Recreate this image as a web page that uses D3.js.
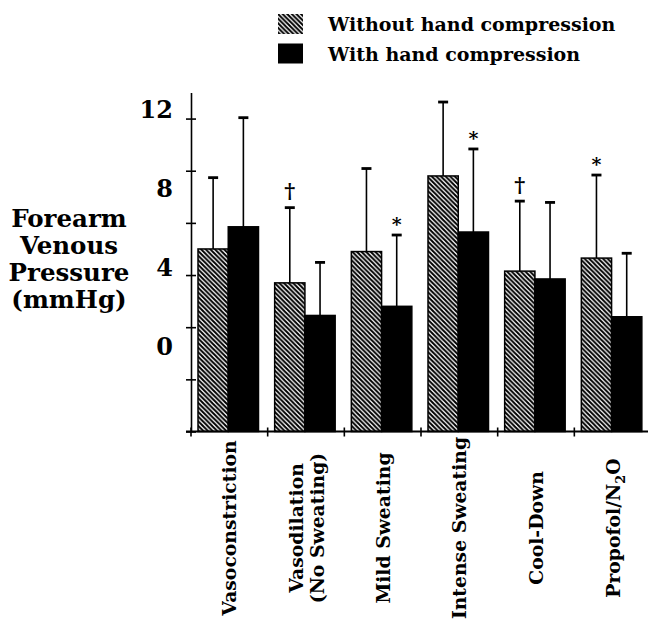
<!DOCTYPE html>
<html>
<head>
<meta charset="utf-8">
<script src="https://cdn.jsdelivr.net/npm/d3@7"></script>
<style>
  html, body { margin: 0; padding: 0; background: #fff; }
  svg { display: block; }
  text { font-family: "DejaVu Serif", serif; font-weight: bold; fill: #000; }
</style>
</head>
<body>
<svg id="chart" width="648" height="622"></svg>
<script>
// ---------------- data ----------------
const categories = ["Vasoconstriction", "Vasodilation\n(No Sweating)", "Mild Sweating", "Intense Sweating", "Cool-Down", "Propofol/N₂O"];
const seriesNames = ["Without hand compression", "With hand compression"];
const withoutComp = [7.0, 5.7, 6.9, 9.8, 6.15, 6.65];
const withoutSD   = [2.75, 2.9, 3.2, 2.85, 2.7, 3.2];
const withComp    = [7.85, 4.45, 4.8, 7.65, 5.85, 4.4];
const withSD      = [4.2, 2.05, 2.75, 3.2, 2.95, 2.45];
const withoutSig  = ["", "†", "", "", "†", "*"];
const withSig     = ["", "", "*", "*", "", ""];
const yTicks      = [0, 2, 4, 6, 8, 10, 12];
const yTickLabels = [12, 8, 4, 0];
const yTitle      = ["Forearm", "Venous", "Pressure", "(mmHg)"];

// ---------------- layout ----------------
const svg = d3.select("#chart");
const x0 = d3.scaleBand().domain(categories).range([191, 651]);
const x1 = d3.scaleBand().domain(seriesNames).range([7, 67.5]);
const y = d3.scaleLinear().domain([0, 13]).range([431.5, 92.5]);
// tick labels as printed in the original figure (offset from the tick marks)
const yLab = d3.scaleLinear().domain([0, 12]).range([355, 118]);

const defs = svg.append("defs");
const P = 4.6;
const pat = defs.append("pattern").attr("id", "hatch")
  .attr("patternUnits", "userSpaceOnUse").attr("width", P).attr("height", P);
pat.append("rect").attr("width", P).attr("height", P).attr("fill", "#fff");
pat.append("path").attr("d", `M-1,-1 L${P + 1},${P + 1} M-1,${P - 1} L1,${P + 1} M${P - 1},-1 L${P + 1},1`)
  .attr("stroke", "#000").attr("stroke-width", 2);

const fills = { [seriesNames[0]]: "url(#hatch)", [seriesNames[1]]: "#000" };

const rows = categories.map((c, i) => ([
  { cat: c, s: seriesNames[0], v: withoutComp[i], sd: withoutSD[i], sig: withoutSig[i] },
  { cat: c, s: seriesNames[1], v: withComp[i], sd: withSD[i], sig: withSig[i] }
]));

const g = svg.append("g").selectAll("g").data(rows).join("g")
  .attr("transform", d => `translate(${x0(d[0].cat)},0)`);

// error bars (behind bars)
g.selectAll("line.err").data(d => d).join("line").attr("class", "err")
  .attr("x1", d => x1(d.s) + x1.bandwidth() / 2).attr("x2", d => x1(d.s) + x1.bandwidth() / 2)
  .attr("y1", d => y(d.v)).attr("y2", d => y(d.v + d.sd))
  .attr("stroke", "#000").attr("stroke-width", 1.6);
g.selectAll("rect.cap").data(d => d).join("rect").attr("class", "cap")
  .attr("x", d => x1(d.s) + x1.bandwidth() / 2 - 5).attr("width", 10)
  .attr("y", d => y(d.v + d.sd) - 1).attr("height", 2.8).attr("fill", "#000");

// bars
g.selectAll("rect.bar").data(d => d).join("rect").attr("class", "bar")
  .attr("x", d => x1(d.s)).attr("width", x1.bandwidth())
  .attr("y", d => y(d.v)).attr("height", d => y(0) - y(d.v))
  .attr("fill", d => fills[d.s]).attr("stroke", "#000").attr("stroke-width", 1.5);

// significance markers
g.selectAll("text.sig").data(d => d.filter(e => e.sig)).join("text").attr("class", "sig")
  .attr("x", d => x1(d.s) + x1.bandwidth() / 2)
  .attr("y", d => y(d.v + d.sd) - (d.sig === "*" ? 4 : 9))
  .attr("text-anchor", "middle")
  .style("font-size", d => d.sig === "*" ? "19px" : "21px")
  .text(d => d.sig);

// y axis
const ax = svg.append("g").attr("transform", `translate(${x0.range()[0]},0)`);
ax.call(d3.axisLeft(y).tickValues(yTicks).tickSize(5).tickSizeOuter(0).tickFormat(""));
ax.append("g").call(d3.axisRight(y).tickValues(yTicks).tickSize(5).tickSizeOuter(0).tickFormat(""))
  .select(".domain").remove();
ax.selectAll("path, line").attr("stroke", "#000").attr("stroke-width", 1.6);

svg.append("g").selectAll("text").data(yTickLabels).join("text")
  .attr("x", 173).attr("y", d => yLab(d)).attr("text-anchor", "end")
  .style("font-size", "24px").text(d => d);

// x axis
svg.append("line").attr("x1", x0.range()[0] - 5).attr("x2", 648)
  .attr("y1", y(0)).attr("y2", y(0)).attr("stroke", "#000").attr("stroke-width", 2);
svg.append("g").selectAll("line").data(categories).join("line")
  .attr("x1", d => x0(d)).attr("x2", d => x0(d))
  .attr("y1", y(0) - 4).attr("y2", y(0) + 5).attr("stroke", "#000").attr("stroke-width", 1.6);

// category labels (rotated)
const lab = svg.append("g").selectAll("text").data(categories).join("text")
  .attr("transform", d => `translate(${x0(d) + x0.bandwidth() / 2},528) rotate(-90)`)
  .attr("text-anchor", "middle").style("font-size", "18.8px");
lab.each(function (d) {
  const lines = d.split("\n");
  const t = d3.select(this);
  lines.forEach((ln, i) => {
    const dy = (i - (lines.length - 1) / 2) * 21 + 7;
    const parts = ln.split("₂");
    t.append("tspan").attr("x", 0).attr("y", dy).text(parts[0]);
    if (parts.length > 1) {
      t.append("tspan").attr("dy", 5).style("font-size", "13px").text("2");
      t.append("tspan").attr("dy", -5).text(parts[1]);
    }
  });
});

// y title
svg.append("g").selectAll("text").data(yTitle).join("text")
  .attr("x", 69).attr("y", (d, i) => 227 + i * 27).attr("text-anchor", "middle")
  .style("font-size", "24.5px").text(d => d);

// legend
const leg = svg.append("g").selectAll("g").data(seriesNames).join("g")
  .attr("transform", (d, i) => `translate(278,${14 + i * 29.5})`);
leg.append("rect").attr("width", 25).attr("height", 20).attr("fill", d => fills[d]);
leg.append("text").attr("x", 50).attr("y", 17).style("font-size", "19px").text(d => d);
</script>
</body>
</html>
